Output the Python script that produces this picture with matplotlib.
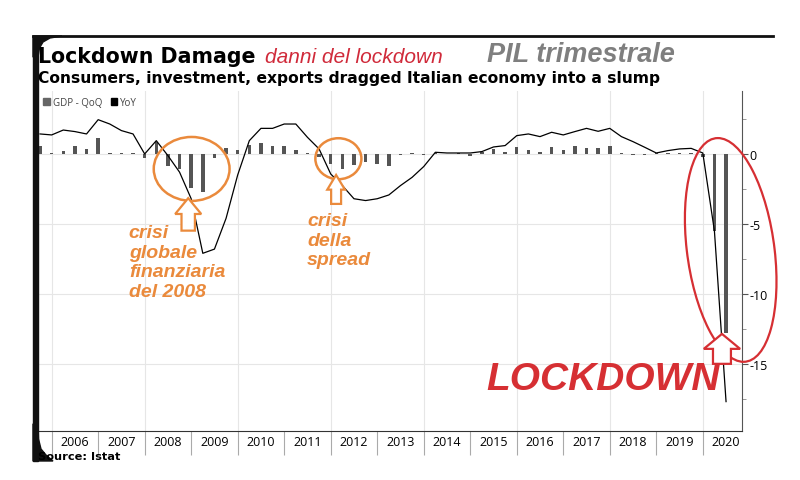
import matplotlib.pyplot as plt
import matplotlib.patches as mpatches
from matplotlib.lines import Line2D
import numpy as np
import pandas as pd

# quarterly data, Q3 2005 .. Q2 2020
quarters = pd.period_range("2005Q3", "2020Q2", freq="Q")
gdp_qoq = [0.6, 0.1, 0.24, 0.6, 0.36, 1.12, 0.05, 0.1, 0.1, -0.3,
           0.83, -0.83, -1.07, -2.4, -2.74, -0.3, 0.4, 0.3, 0.64, 0.79,
           0.55, 0.6, 0.3, 0.1, -0.24, -0.7, -1.07, -0.8, -0.55, -0.7,
           -0.83, -0.1, 0.1, -0.1, 0.1, 0.03, 0.1, -0.15, 0.17, 0.36,
           0.17, 0.48, 0.31, 0.12, 0.48, 0.31, 0.55, 0.4, 0.4, 0.55,
           0.05, -0.05, -0.1, 0.05, 0.1, 0.1, 0.05, -0.2, -5.5, -12.8]
gdp_yoy = [1.43, 1.36, 1.71, 1.6, 1.43, 2.45, 2.14, 1.67, 1.43, 0.0,
           0.95, -0.12, -1.3, -3.2, -7.1, -6.8, -4.6, -1.5, 0.95, 1.83,
           1.83, 2.14, 2.14, 1.19, 0.36, -1.43, -2.26, -3.2, -3.33, -3.2,
           -2.93, -2.26, -1.67, -0.9, 0.12, 0.07, 0.07, 0.07, 0.17, 0.5,
           0.6, 1.31, 1.43, 1.24, 1.55, 1.36, 1.6, 1.83, 1.62, 1.83,
           1.24, 0.88, 0.48, 0.07, 0.24, 0.36, 0.4, 0.07, -5.5, -17.7]
years = list(range(2006, 2021))
year_labels = [str(y) for y in years]
y_ticks = [-15, -10, -5, 0]

ORANGE = "#ea8a3c"
RED = "#d62f33"
W, H = 800, 481


def fx(px):
    return px / W


def fy(py):
    return 1 - py / H


# x position = end of the quarter, in fractional years
x = np.array([q.year + q.quarter / 4 for q in quarters])

fig = plt.figure(figsize=(8, 4.81), dpi=100)
ax = fig.add_axes([fx(37), fy(432), fx(742) - fx(37), fy(92) - fy(432)])

ax.bar(x, gdp_qoq, width=0.075, color="#555555", zorder=2)
ax.plot(x, gdp_yoy, color="black", lw=0.9, zorder=3)

ax.set_xlim(2005.685, 2020.843)
ax.set_ylim(-19.8, 4.5)

# y axis on the right
ax.yaxis.tick_right()
ax.set_yticks(y_ticks)
ax.set_yticklabels([str(v) for v in y_ticks], family="Open Sans", fontsize=9)
ax.set_yticks(np.arange(-17.5, 4, 5), minor=True)
ax.tick_params(axis="y", which="major", length=4, width=0.8, color="#555555", pad=1.5)
ax.tick_params(axis="y", which="minor", length=3, width=0.6, color="#888888")

# years: separators on the boundaries, labels in the middle
ax.set_xticks(years)
ax.set_xticklabels([])
ax.set_xticks([y + 0.5 for y in years], minor=True)
ax.set_xticklabels(year_labels, minor=True, family="Open Sans", fontsize=9)
ax.tick_params(axis="x", which="major", length=17, width=0.8, color="#aaaaaa", direction="out")
ax.tick_params(axis="x", which="minor", length=0, pad=3)

for y in years[::2]:
    ax.axvline(y, color="#e6e6e6", lw=0.8, zorder=0)
for v in y_ticks:
    ax.axhline(v, color="#e6e6e6", lw=0.8, zorder=0)

for s in ["left", "top"]:
    ax.spines[s].set_visible(False)
ax.spines["right"].set_color("#555555")
ax.spines["right"].set_linewidth(0.8)
ax.spines["bottom"].set_color("#333333")
ax.spines["bottom"].set_linewidth(0.8)

handles = [mpatches.Patch(color="#666666"), mpatches.Patch(color="black")]
ax.legend(handles, ["GDP - QoQ", "YoY"], loc="upper left", ncol=2, frameon=False,
          prop={"family": "Open Sans", "size": 7}, handlelength=0.7, handleheight=0.7,
          handletextpad=0.3, columnspacing=0.9, borderaxespad=0.2,
          bbox_to_anchor=(0.0, 1.0), labelcolor="#444444")

# annotations
ax.add_patch(mpatches.Ellipse((2009.01, -1.07), 1.63, 4.57, fill=False,
                              ec=ORANGE, lw=1.8, zorder=4, clip_on=False))
ax.add_patch(mpatches.Ellipse((2012.165, -0.34), 0.99, 2.93, fill=False,
                              ec=ORANGE, lw=1.8, zorder=4, clip_on=False))
ax.add_patch(mpatches.Ellipse((2020.6, -6.86), 1.89, 16.0, angle=2, fill=False,
                              ec=RED, lw=1.6, zorder=4, clip_on=False))


def up_arrow(cx, tip, head_bot, base, hw, sw, color):
    pts = [(cx, tip), (cx + hw, head_bot), (cx + sw, head_bot), (cx + sw, base),
           (cx - sw, base), (cx - sw, head_bot), (cx - hw, head_bot)]
    ax.add_patch(mpatches.Polygon(pts, closed=True, fc="white", ec=color,
                                  lw=1.6, zorder=5, clip_on=False))


up_arrow(2008.936, -3.16, -4.29, -5.48, 0.28, 0.144, ORANGE)
up_arrow(2012.116, -1.5, -2.55, -3.57, 0.19, 0.107, ORANGE)
up_arrow(2020.412, -12.86, -13.93, -15.0, 0.39, 0.193, RED)

ax.text(2007.66, -5.0, "crisi\nglobale\nfinanziaria\ndel 2008", color=ORANGE,
        family="Liberation Sans", fontsize=14, weight="bold", style="italic",
        va="top", ha="left", zorder=6)
ax.text(2011.49, -4.15, "crisi\ndella\nspread", color=ORANGE,
        family="Liberation Sans", fontsize=14, weight="bold", style="italic",
        va="top", ha="left", zorder=6)
ax.text(2015.34, -16.8, "LOCKDOWN", color=RED, family="Liberation Sans",
        fontsize=28, weight="bold", style="italic", va="baseline", ha="left", zorder=6)

# titles
fig.text(fx(38), fy(63.3), "Lockdown Damage", fontsize=14.8, weight="bold", va="baseline")
fig.text(fx(265), fy(63.3), "danni del lockdown", fontsize=15, style="italic",
         family="Liberation Sans", color="#d02a3a", va="baseline")
fig.text(fx(487), fy(61.7), "PIL trimestrale", fontsize=19.5, style="italic", weight="bold",
         family="Liberation Sans", color="#7f7f7f", va="baseline")
fig.text(fx(38), fy(83.3), "Consumers, investment, exports dragged Italian economy into a slump",
         fontsize=11.2, weight="bold", va="baseline")
fig.text(fx(38), fy(460), "Source: Istat", fontsize=8.2, weight="bold", va="baseline")

# dark screenshot border, top and left
fig.add_artist(Line2D([fx(33), fx(773)], [fy(37.3), fy(37.3)], transform=fig.transFigure,
                      color="#111111", lw=2))
fig.add_artist(mpatches.Rectangle((fx(33), fy(462)), 5 / W, 425 / H, transform=fig.transFigure,
                                  color="#111111"))
corner_top = [(33, 37), (62, 37), (50, 39), (43, 43), (39.5, 49), (38, 58), (33, 58)]
corner_bot = [(33, 425), (38, 425), (38.5, 440), (41, 450), (46, 456), (53, 462), (33, 462)]
for pts in (corner_top, corner_bot):
    fig.add_artist(mpatches.Polygon([(fx(a), fy(b)) for a, b in pts], closed=True,
                                    transform=fig.transFigure, color="#111111"))

fig.savefig("out.png", dpi=100)
